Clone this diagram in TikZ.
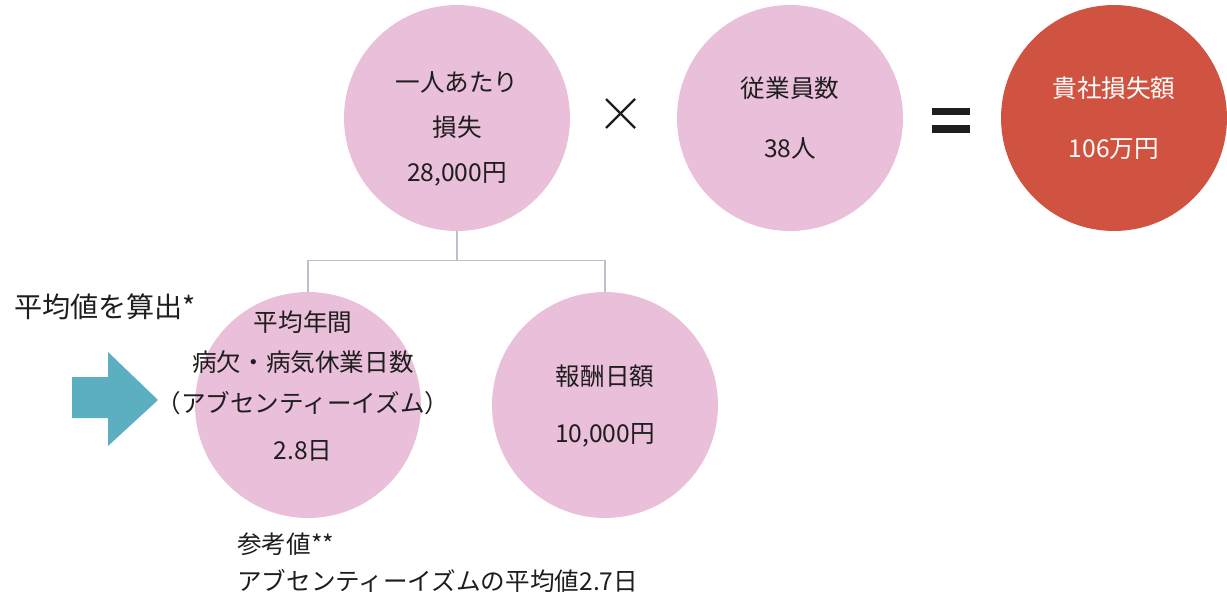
\documentclass[tikz,border=0pt]{standalone}
\usepackage{fontspec}
\setmainfont{Noto Sans CJK JP}
\definecolor{discpink}{RGB}{233,191,217}
\definecolor{discred}{RGB}{208,83,65}
\definecolor{arrowblue}{RGB}{92,175,193}
\definecolor{linegray}{RGB}{190,190,204}
\definecolor{inkgray}{RGB}{30,30,30}
\begin{document}
\begin{tikzpicture}[x=0.02cm, y=-0.02cm,
  disc/.style={circle, fill=discpink, minimum size=4.52cm, inner sep=0pt},
  txt/.style={align=center, text=inkgray, font=\fontsize{14}{25.6}\selectfont},
  link/.style={draw=linegray, line width=0.7pt}]
\useasboundingbox (0,0) rectangle (1227,598);

% top row
\node[disc] (loss) at (457,118) {};
\node[txt] (loss text) at (457,129) {一人あたり\\損失\\28,000円};

\node[disc] (staff) at (790,118) {};
\node[txt, font=\fontsize{14}{34}\selectfont] (staff text) at (790,118) {従業員数\\38人};

\node[disc, fill=discred] (total) at (1114,118) {};
\node[txt, text=white, font=\fontsize{14}{34}\selectfont] (total text) at (1114,118) {貴社損失額\\106万円};

\draw[inkgray, line width=1.4pt] (606,99) -- (635,128);
\draw[inkgray, line width=1.4pt] (635,99) -- (606,128);
\fill[inkgray] (932,108) rectangle (970,115);
\fill[inkgray] (932,125) rectangle (970,133);

% bottom row
\node[disc] (absent) at (308,405) {};
\node[txt, font=\fontsize{14}{22}\selectfont] (absent text) at (303,386)
  {平均年間\\[1pt]病欠・病気休業日数\\[1pt]（アブセンティーイズム）\\[5pt]2.8日};

\node[disc] (wage) at (605,405) {};
\node[txt, font=\fontsize{14}{32.4}\selectfont] (wage text) at (605,406) {報酬日額\\10,000円};

\draw[link] (loss.south) -- ++(0,29) -| (absent.north);
\draw[link] (loss.south) -- ++(0,29) -| (wage.north);

% notes
\node[txt, font=\fontsize{16}{20}\selectfont, anchor=west] (calc note) at (8,307) {平均値を算出*};
\fill[arrowblue] (72,377) -- (108,377) -- (108,352) -- (158,400) -- (108,446) -- (108,418) -- (72,418) -- cycle;
\node[txt, align=left, font=\fontsize{14}{21}\selectfont, anchor=west] (ref note) at (231,563)
  {参考値**\\アブセンティーイズムの平均値2.7日};
\end{tikzpicture}
\end{document}
